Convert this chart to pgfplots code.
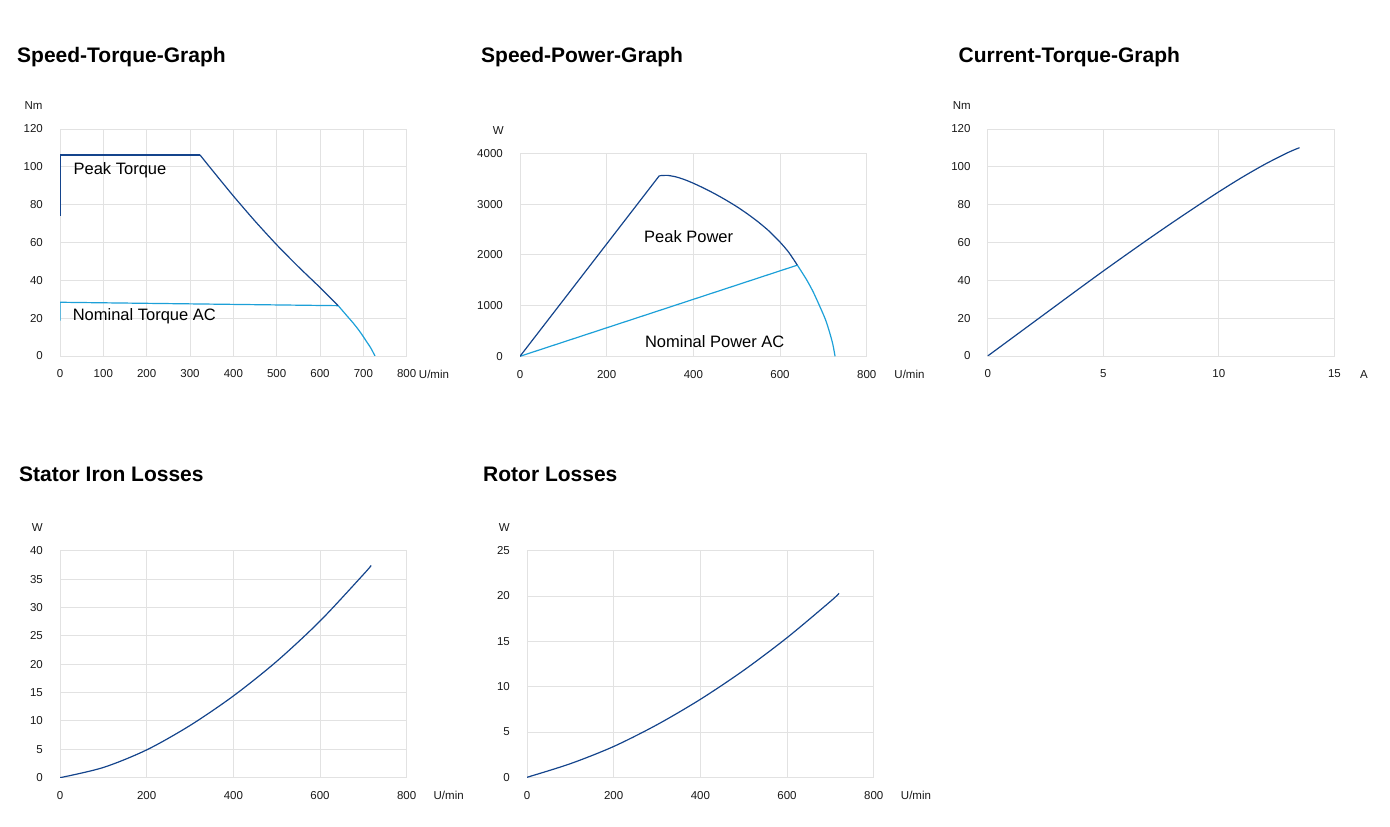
\documentclass[border=0pt]{standalone}
\usepackage{fontspec}
\setmainfont{Liberation Sans}
\usepackage{pgfplots}
\pgfplotsset{compat=1.18}

\definecolor{darkblue}{RGB}{20,68,140}
\definecolor{lightblue}{RGB}{28,160,216}
\definecolor{gridgrey}{RGB}{226,226,226}

\pgfplotsset{
  motor/.style={
    scale only axis,
    width=346.7pt,
    anchor=south west,
    axis line style={draw=gridgrey, line width=0.9pt},
    grid=major,
    major grid style={draw=gridgrey, line width=0.9pt},
    major tick length=0pt,
    tick style={draw=none},
    xmin=0, ymin=0,
    tick label style={font=\fontsize{11.5}{12}\selectfont, text=black!90},
    /pgf/number format/assume math mode=true,
    /pgf/number format/1000 sep={},
    scaled ticks=false,
    yticklabel style={anchor=east, inner sep=0pt, xshift=-17pt},
    xticklabel style={anchor=base, inner sep=0pt, yshift=-22pt},
    every axis plot/.append style={line width=1.2pt, line join=round},
  },
}
\tikzset{note/.style={font=\fontsize{16.5}{17}\selectfont, anchor=base west, inner sep=0pt}}

\begin{document}
\begin{tikzpicture}
\path[use as bounding box] (0pt,0pt) rectangle (1390pt,827pt);

% titles
\begin{scope}[every node/.style={font=\bfseries\fontsize{21}{22}\selectfont, anchor=base west, inner sep=0pt}]
\node at (17pt,764pt) {Speed-Torque-Graph};
\node at (481pt,764pt) {Speed-Power-Graph};
\node at (958.5pt,764pt) {Current-Torque-Graph};
\node at (19pt,345pt) {Stator Iron Losses};
\node at (483pt,345pt) {Rotor Losses};
\end{scope}

% unit labels
\begin{scope}[every node/.style={font=\fontsize{11.5}{12}\selectfont, anchor=base, inner sep=0pt, text=black!90}]
\node at (33.5pt,717.2pt) {Nm};
\node at (434pt,448.9pt) {U/min};
\node at (498.3pt,692.2pt) {W};
\node at (909.5pt,448.9pt) {U/min};
\node at (961.7pt,717.2pt) {Nm};
\node at (1364pt,448.9pt) {A};
\node at (37.3pt,295.6pt) {W};
\node at (448.7pt,27.2pt) {U/min};
\node at (504.3pt,295.6pt) {W};
\node at (916pt,27.2pt) {U/min};
\end{scope}

% Speed-Torque
\begin{axis}[motor, at={(60pt,471pt)}, height=227pt,
  xmax=800, ymax=120, xtick={0,100,...,800}, ytick={0,20,...,120}]
\addplot[lightblue] coordinates {(0,18.7) (0,28.4) (642,26.6)};
\addplot[lightblue, smooth] coordinates {(642,26.6) (660,21.8) (677,17.3) (690,13.5) (700,10.2) (708,7.4) (715.4,4.9) (721,2.6) (725.5,0.6) (727,0)};
\addplot[darkblue] coordinates {(0,74) (0,106.3) (323,106.3)};
\addplot[darkblue, smooth, tension=0.4] coordinates {(323,106.3) (350,98.6) (400,84.6) (450,71.3) (500,58.8) (550,47.2) (600,36.2) (642,26.6)};
\node[note] at (axis cs:31,95.7) {Peak Torque};
\node[note] at (axis cs:29,18.7) {Nominal Torque AC};
\end{axis}

% Speed-Power
\begin{axis}[motor, at={(520pt,470.7pt)}, height=203pt,
  xmax=800, ymax=4000, xtick={0,200,...,800}, ytick={0,1000,...,4000}]
\addplot[lightblue] coordinates {(0,0) (640,1796)};
\addplot[lightblue, smooth] coordinates {(640,1796) (661.5,1506) (677,1260) (692,979) (705,720) (715,454) (722,230) (727,0)};
\addplot[darkblue] coordinates {(0,0) (321.5,3558)};
\addplot[darkblue, smooth, tension=0.4] coordinates {(321.5,3558) (340,3565) (360,3535) (380,3480) (400,3410) (425,3310) (450,3200) (475,3080) (500,2950) (525,2805) (550,2645) (575,2465) (600,2250) (620,2050) (640,1796)};
\node[note] at (axis cs:286,2242) {Peak Power};
\node[note] at (axis cs:288,178) {Nominal Power AC};
\end{axis}

% Current-Torque
\begin{axis}[motor, at={(987.7pt,471pt)}, height=227pt,
  xmax=15, ymax=120, xtick={0,5,10,15}, ytick={0,20,...,120}]
\addplot[darkblue, smooth] coordinates {(0,0) (1,9.0) (2,18.0) (3,27.0) (4,36.0) (5,44.9) (6,53.6) (7,62.2) (8,70.6) (9,78.8) (10,86.8) (11,94.4) (12,101.4) (13,107.6) (13.49,110.1)};
\end{axis}

% Stator Iron Losses
\begin{axis}[motor, at={(60pt,49.3pt)}, height=227pt,
  xmax=800, ymax=40, xtick={0,200,...,800}, ytick={0,5,...,40}]
\addplot[darkblue, smooth] coordinates {(0,0) (100,1.8) (200,4.9) (300,9.2) (400,14.4) (500,20.5) (600,27.6) (700,35.8) (718,37.4)};
\end{axis}

% Rotor Losses
\begin{axis}[motor, at={(527pt,49.7pt)}, height=226.6pt,
  xmax=800, ymax=25, xtick={0,200,...,800}, ytick={0,5,...,25}]
\addplot[darkblue, smooth] coordinates {(0,0) (100,1.5) (200,3.4) (300,5.8) (400,8.6) (500,11.8) (600,15.4) (700,19.4) (720,20.3)};
\end{axis}
\end{tikzpicture}
\end{document}
